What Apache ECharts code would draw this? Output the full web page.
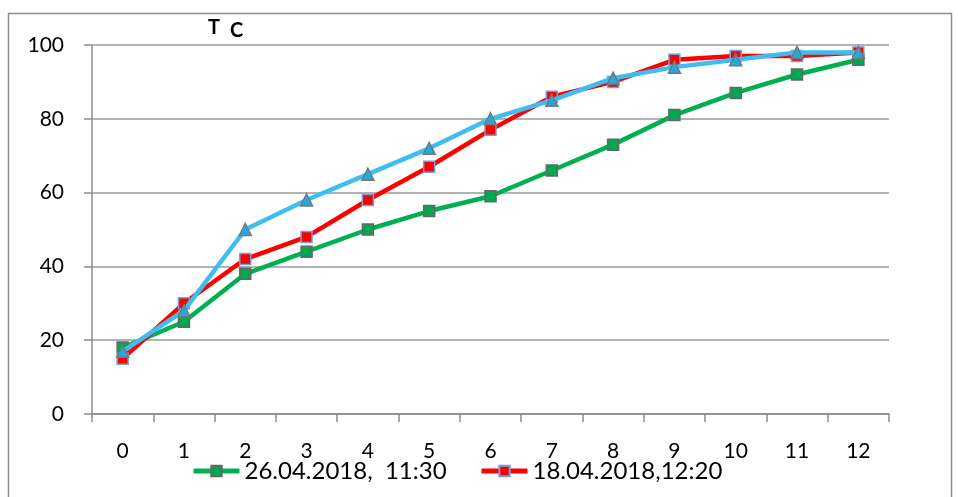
<!DOCTYPE html>
<html><head><meta charset="utf-8">
<script src="https://cdn.jsdelivr.net/npm/echarts@6/dist/echarts.min.js"></script>
<style>html,body{margin:0;padding:0;background:#fff}#c{width:958px;height:497px}</style>
</head><body><div id="c"></div>
<script>
const categories = ['0','1','2','3','4','5','6','7','8','9','10','11','12'];
const greenName = '26.04.2018,  11:30';
const greenValues = [18,25,38,44,50,55,59,66,73,81,87,92,96];
const redName = '18.04.2018,12:20';
const redValues = [15,30,42,48,58,67,77,86,90,96,97,97,98];
const blueName = 'series3';
const blueValues = [17,28,50,58,65,72,80,85,91,94,96,98,98];
const yTicks = [0,20,40,60,80,100];

const font = 'Lato, "Open Sans", sans-serif';
const legendBase = {top:454,itemWidth:46,itemHeight:13,
  textStyle:{fontFamily:font,fontSize:24,color:'#000'},
  lineStyle:{width:5}};
const chart = echarts.init(document.getElementById('c'));
chart.setOption({
  animation:false,
  graphic:[
    {type:'rect',shape:{x:8.5,y:13.5,width:943,height:500},style:{fill:'none',stroke:'#8c8c8c',lineWidth:1.5},silent:true},
    {type:'text',left:208,top:18,style:{text:'T',fontFamily:font,fontWeight:'bold',fontSize:20,fill:'#000'}},
    {type:'text',left:230,top:21,style:{text:'C',fontFamily:font,fontWeight:'bold',fontSize:20,fill:'#000'}}
  ],
  grid:{left:92,right:69,top:45,bottom:83,containLabel:false},
  legend:[
    Object.assign({data:[greenName],left:186},legendBase),
    Object.assign({data:[redName],left:474},legendBase)
  ],
  xAxis:{type:'category',data:categories,boundaryGap:true,
    axisLine:{lineStyle:{color:'#8c8c8c',width:1.5}},
    axisTick:{show:true,length:8,lineStyle:{color:'#8c8c8c',width:1.5}},
    axisLabel:{fontFamily:font,fontSize:21,color:'#000',margin:27}},
  yAxis:{type:'value',min:0,max:100,interval:20,
    axisLine:{show:true,lineStyle:{color:'#8c8c8c',width:1.5}},
    axisTick:{show:true,length:8,lineStyle:{color:'#8c8c8c',width:1.5}},
    splitLine:{lineStyle:{color:'#999',width:1.5}},
    axisLabel:{fontFamily:font,fontSize:21,color:'#000',margin:28,
      formatter:v=>yTicks.includes(v)?String(v):''}},
  series:[
    {name:greenName,type:'line',data:greenValues,symbol:'rect',symbolSize:11,
      lineStyle:{color:'#00b050',width:4.5},
      itemStyle:{color:'#00a84f',borderColor:'#666',borderWidth:1.5},z:2},
    {name:redName,type:'line',data:redValues,symbol:'rect',symbolSize:11,
      lineStyle:{color:'#ff0000',width:4.5},
      itemStyle:{color:'#ff0000',borderColor:'#6fa0e0',borderWidth:1.5},z:3},
    {name:blueName,type:'line',data:blueValues,symbol:'triangle',symbolSize:12,
      lineStyle:{color:'#3ebef0',width:4.5},
      itemStyle:{color:'#22aae0',borderColor:'#777',borderWidth:1.5},z:4}
  ]
});
</script></body></html>
